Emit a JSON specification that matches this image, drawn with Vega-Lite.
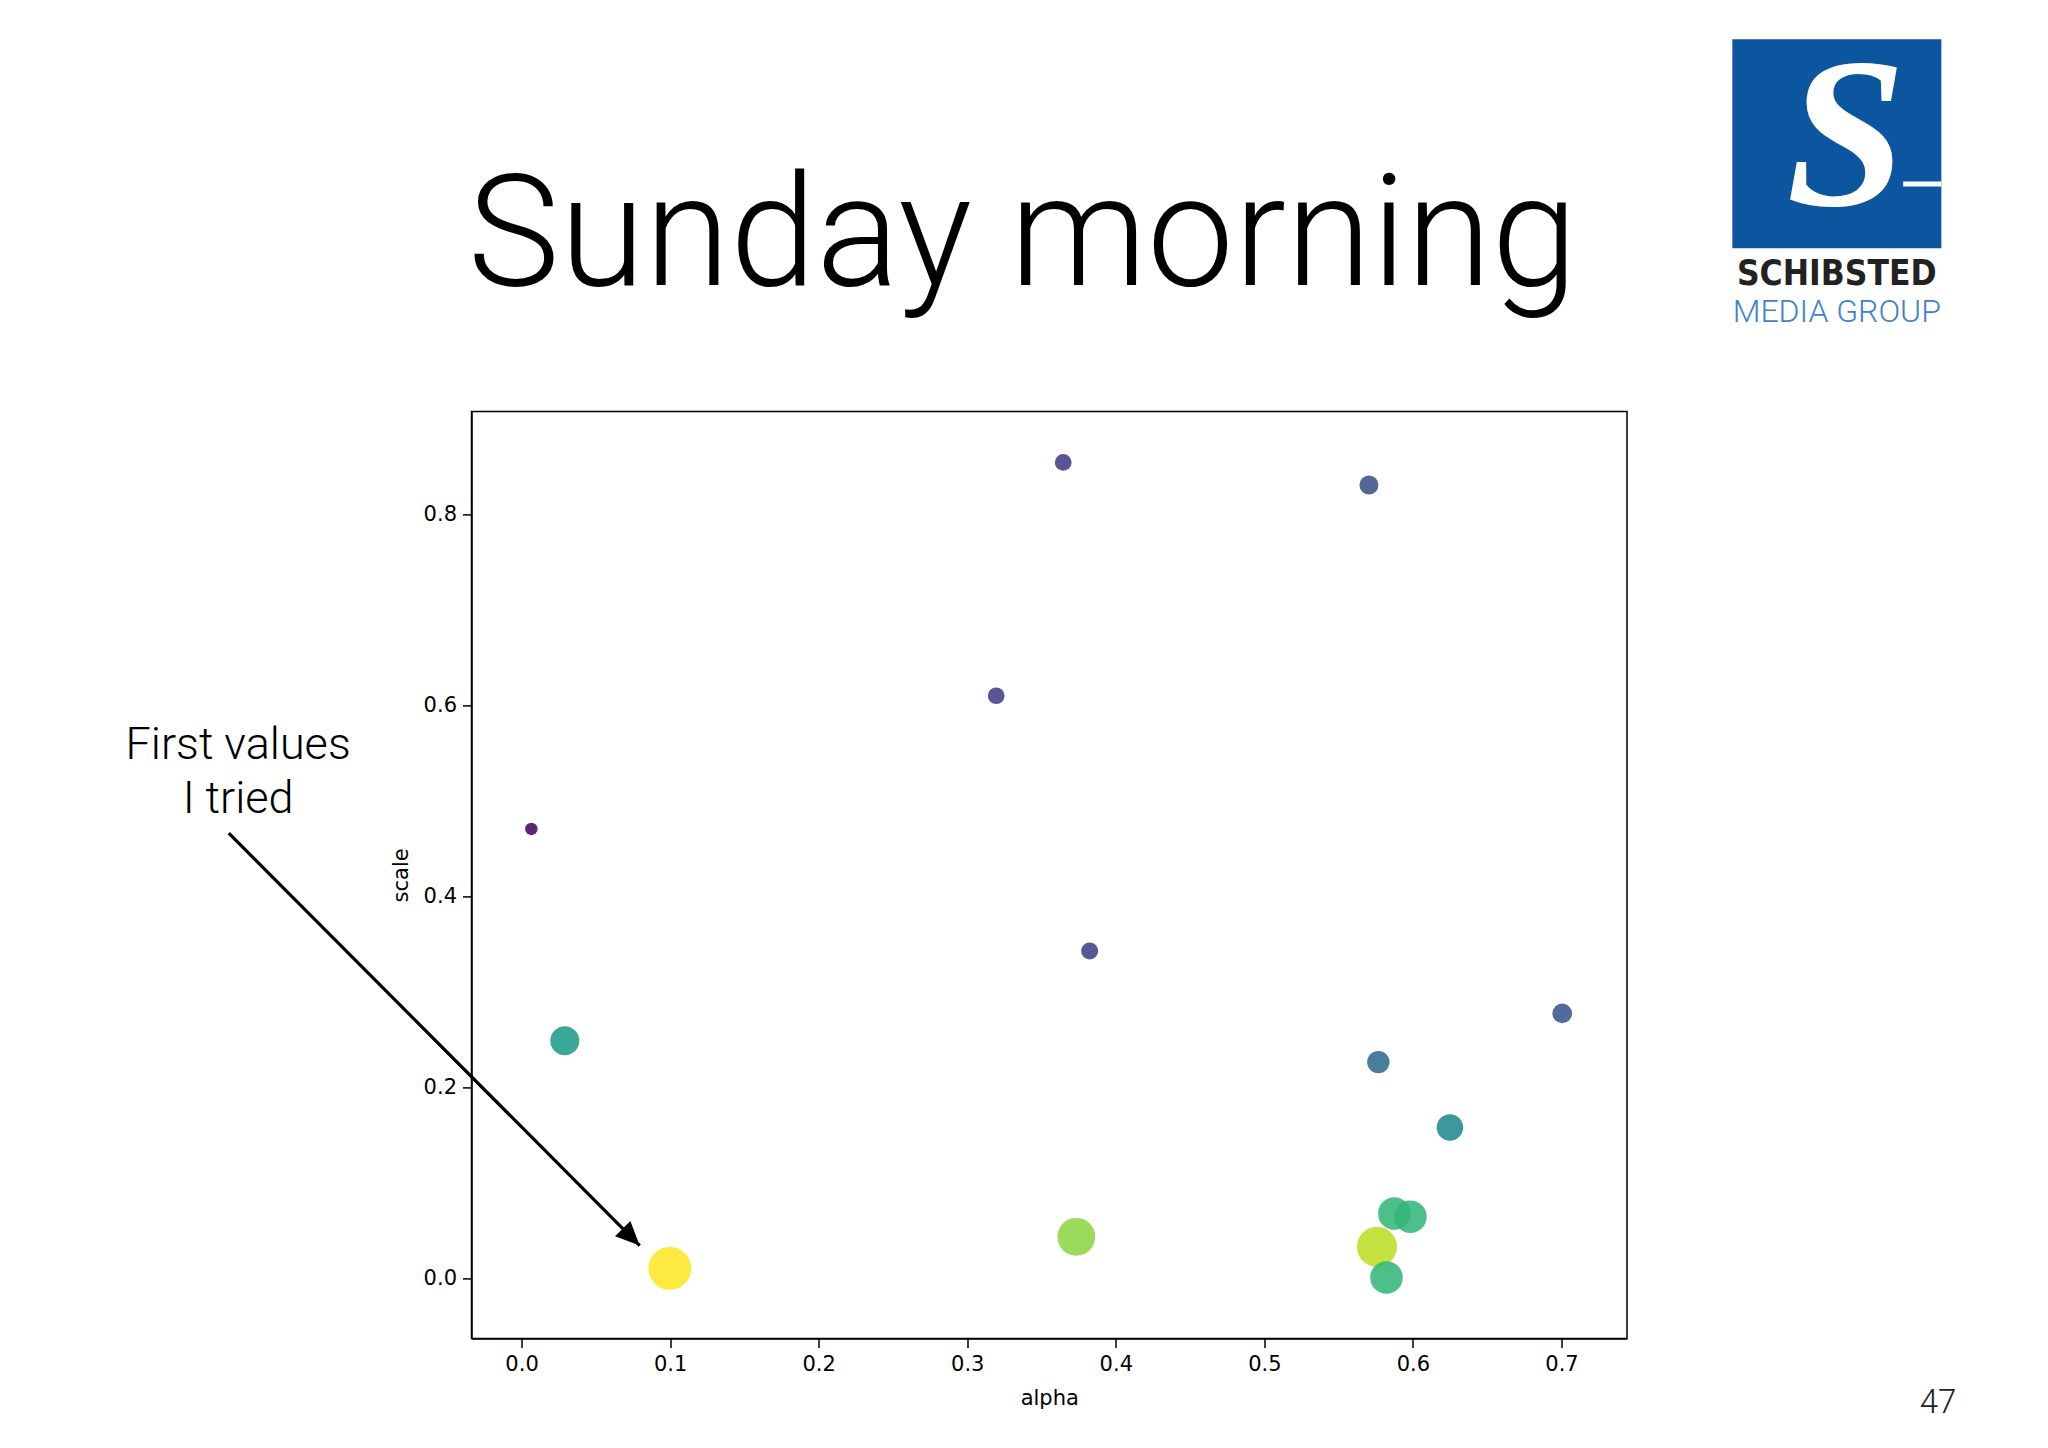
{
  "$schema": "https://vega.github.io/schema/vega-lite/v6.json",
  "autosize": {"type": "none"},
  "width": 1155.5,
  "height": 927,
  "padding": {"left": 471.5, "top": 411.4, "right": 421, "bottom": 109.6},
  "background": "white",
  "config": {
    "view": {"stroke": "black", "strokeWidth": 1.5},
    "axis": {
      "domainColor": "black", "domainWidth": 1.5,
      "tickColor": "black", "tickWidth": 1.5, "tickSize": 9,
      "labelFont": "DejaVu Sans", "labelFontSize": 21, "labelColor": "black",
      "titleFont": "DejaVu Sans", "titleFontSize": 21, "titleFontWeight": "normal", "titleColor": "black",
      "grid": false
    }
  },
  "datasets": {
    "trials": [
      {"alpha": 0.3646, "scale": 0.854, "score": 0.18},
      {"alpha": 0.5704, "scale": 0.8304, "score": 0.25},
      {"alpha": 0.3195, "scale": 0.6098, "score": 0.18},
      {"alpha": 0.0066, "scale": 0.4704, "score": 0.02},
      {"alpha": 0.3824, "scale": 0.3426, "score": 0.19},
      {"alpha": 0.0291, "scale": 0.2487, "score": 0.55},
      {"alpha": 0.7005, "scale": 0.2774, "score": 0.27},
      {"alpha": 0.5767, "scale": 0.2264, "score": 0.35},
      {"alpha": 0.6249, "scale": 0.158, "score": 0.47},
      {"alpha": 0.0998, "scale": 0.0105, "score": 1.0},
      {"alpha": 0.3734, "scale": 0.0435, "score": 0.83},
      {"alpha": 0.5875, "scale": 0.068, "score": 0.66},
      {"alpha": 0.5983, "scale": 0.0645, "score": 0.66},
      {"alpha": 0.5758, "scale": 0.0331, "score": 0.9},
      {"alpha": 0.5822, "scale": 0.001, "score": 0.66}
    ]
  },
  "layer": [
    {
      "data": {"name": "trials"},
      "mark": {"type": "circle", "opacity": 0.88, "strokeWidth": 0},
      "encoding": {
        "x": {"field": "alpha", "type": "quantitative",
              "scale": {"domain": [-0.0337, 0.7441], "nice": false, "zero": false},
              "axis": {"title": "alpha", "values": [0, 0.1, 0.2, 0.3, 0.4, 0.5, 0.6, 0.7], "format": ".1f", "labelPadding": 6, "titlePadding": 13}},
        "y": {"field": "scale", "type": "quantitative",
              "scale": {"domain": [-0.0628, 0.9074], "nice": false, "zero": false},
              "axis": {"title": "scale", "values": [0, 0.2, 0.4, 0.6, 0.8], "format": ".1f", "labelPadding": 6, "titlePadding": 12}},
        "color": {"field": "score", "type": "quantitative", "scale": {"scheme": "viridis", "domain": [0, 1]}, "legend": null},
        "size": {"field": "score", "type": "quantitative", "scale": {"type": "pow", "exponent": 1.5, "domain": [0, 1], "range": [150, 1849]}, "legend": null}
      }
    },
    {
      "data": {"values": [{"alpha": -0.1971, "scale": 0.4661, "alpha2": 0.0795, "scale2": 0.0344}]},
      "mark": {"type": "rule", "color": "black", "strokeWidth": 3.2},
      "encoding": {
        "x": {"field": "alpha", "type": "quantitative"},
        "y": {"field": "scale", "type": "quantitative"},
        "x2": {"field": "alpha2"},
        "y2": {"field": "scale2"}
      }
    },
    {
      "data": {"values": [{"alpha": 0.0795, "scale": 0.0344}]},
      "mark": {"type": "point", "shape": "M0,0L-1,-0.45L-1,0.45Z", "filled": true, "color": "black", "opacity": 1, "size": 2300, "angle": 45, "strokeWidth": 0},
      "encoding": {
        "x": {"field": "alpha", "type": "quantitative"},
        "y": {"field": "scale", "type": "quantitative"}
      }
    },
    {
      "data": {"values": [{"alpha": -0.1908, "scale": 0.5432, "label": "First values\nI tried"}]},
      "mark": {"type": "text", "font": "Roboto", "fontWeight": 300, "fontSize": 45, "lineBreak": "\n", "lineHeight": 53.6, "align": "center", "baseline": "alphabetic", "color": "black"},
      "encoding": {
        "x": {"field": "alpha", "type": "quantitative"},
        "y": {"field": "scale", "type": "quantitative"},
        "text": {"field": "label"}
      }
    },
    {
      "data": {"values": [{"alpha": 0.3373, "scale": 1.04, "label": "Sunday morning"}]},
      "mark": {"type": "text", "font": "Roboto", "fontWeight": 300, "fontSize": 155, "align": "center", "baseline": "alphabetic", "color": "black"},
      "encoding": {
        "x": {"field": "alpha", "type": "quantitative"},
        "y": {"field": "scale", "type": "quantitative"},
        "text": {"field": "label"}
      }
    },
    {
      "data": {"values": [{"alpha": 0.9534, "scale": -0.1413, "label": "47"}]},
      "mark": {"type": "text", "font": "Roboto", "fontWeight": 300, "fontSize": 33, "align": "center", "baseline": "alphabetic", "color": "#222222"},
      "encoding": {
        "x": {"field": "alpha", "type": "quantitative"},
        "y": {"field": "scale", "type": "quantitative"},
        "text": {"field": "label"}
      }
    },
    {
      "data": {"values": [{"alpha": 0.815, "alpha2": 0.9557, "scale": 1.2968, "scale2": 1.0781}]},
      "mark": {"type": "rect", "color": "#0c56a0"},
      "encoding": {
        "x": {"field": "alpha", "type": "quantitative"},
        "x2": {"field": "alpha2"},
        "y": {"field": "scale", "type": "quantitative"},
        "y2": {"field": "scale2"}
      }
    },
    {
      "data": {"values": [{"alpha": 0.8915, "scale": 1.0763, "label": "S"}]},
      "mark": {"type": "text", "font": "Liberation Serif", "fontStyle": "italic", "fontWeight": "bold", "fontSize": 215, "align": "center", "baseline": "bottom", "color": "white"},
      "encoding": {
        "x": {"field": "alpha", "type": "quantitative"},
        "y": {"field": "scale", "type": "quantitative"},
        "text": {"field": "label"}
      }
    },
    {
      "data": {"values": [{"alpha": 0.93, "alpha2": 0.9557, "scale": 1.1454}]},
      "mark": {"type": "rule", "color": "white", "strokeWidth": 5},
      "encoding": {
        "x": {"field": "alpha", "type": "quantitative"},
        "x2": {"field": "alpha2"},
        "y": {"field": "scale", "type": "quantitative"}
      }
    },
    {
      "data": {"values": [{"alpha": 0.8853, "scale": 1.0402, "label": "SCHIBSTED"}]},
      "mark": {"type": "text", "font": "DejaVu Sans Condensed", "fontWeight": "bold", "fontSize": 35, "align": "center", "baseline": "alphabetic", "color": "#222222"},
      "encoding": {
        "x": {"field": "alpha", "type": "quantitative"},
        "y": {"field": "scale", "type": "quantitative"},
        "text": {"field": "label"}
      }
    },
    {
      "data": {"values": [{"alpha": 0.8853, "scale": 1.0013, "label": "MEDIA GROUP"}]},
      "mark": {"type": "text", "font": "Roboto", "fontWeight": 300, "fontSize": 32, "align": "center", "baseline": "alphabetic", "color": "#3f82c6"},
      "encoding": {
        "x": {"field": "alpha", "type": "quantitative"},
        "y": {"field": "scale", "type": "quantitative"},
        "text": {"field": "label"}
      }
    }
  ]
}
